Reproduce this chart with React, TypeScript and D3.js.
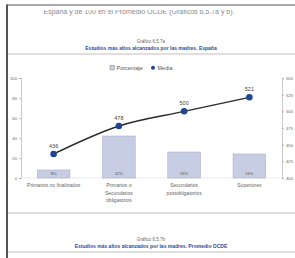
import React, { useEffect, useRef } from "react";
import * as d3 from "d3";

const categories = [
  ["Primarios no finalizados"],
  ["Primarios o", "Secundarios", "obligatorios"],
  ["Secundarios", "postobligatorios"],
  ["Superiores"],
];
const porcentaje = [8, 42, 26, 24];
const media = [436, 478, 500, 521];
const leftTicks = [0, 20, 40, 60, 80, 100];
const rightTicks = [400, 425, 450, 475, 500, 525, 550];

const W = 295;
const H = 258;
const FONT = "'Liberation Sans', Arial, sans-serif";

const App: React.FC = () => {
  const svgRef = useRef<SVGSVGElement>(null);

  useEffect(() => {
    if (!svgRef.current) return;
    const svg = d3.select(svgRef.current);
    svg.selectAll("*").remove();

    svg.append("rect").attr("width", W).attr("height", H).attr("fill", "#fff");

    // clip for the cut-off paragraph at the top
    svg.append("defs").append("clipPath").attr("id", "topclip")
      .append("rect").attr("x", 0).attr("y", 10).attr("width", W).attr("height", 20);

    // top paragraph text (cut off)
    svg.append("text").attr("x", 139).attr("y", 13.8).attr("text-anchor", "middle")
      .attr("clip-path", "url(#topclip)")
      .attr("font-family", FONT).attr("font-size", 7).attr("fill", "#8a8a8a")
      .text("España y de 100 en el Promedio OCDE (Gráficos 6.5.7a y b).");

    // page frame
    svg.append("line").attr("x1", 7).attr("x2", W).attr("y1", 5).attr("y2", 5)
      .attr("stroke", "#555").attr("stroke-width", 1.2);
    svg.append("line").attr("x1", 7).attr("x2", 7).attr("y1", 4.5).attr("y2", H)
      .attr("stroke", "#555").attr("stroke-width", 2);

    const titleBlock = (y: number, sub: string, letter: string) => {
      svg.append("text").attr("x", 151).attr("y", y).attr("text-anchor", "middle")
        .attr("font-family", FONT).attr("font-size", 4.5).attr("fill", "#666")
        .text(`Gráfico 6.5.7${letter}`);
      svg.append("text").attr("x", 151).attr("y", y + 7).attr("text-anchor", "middle")
        .attr("font-family", FONT).attr("font-size", 5).attr("font-weight", "bold")
        .attr("fill", "#2c4a9a").text(sub);
      svg.append("line").attr("x1", 8).attr("x2", W).attr("y1", y + 11).attr("y2", y + 11)
        .attr("stroke", "#d4d4d4").attr("stroke-width", 1.5);
    };
    titleBlock(43, "Estudios más altos alcanzados por las madres. España", "a");
    titleBlock(241, "Estudios más altos alcanzados por las madres. Promedio OCDE", "b");

    // separator above second chart
    svg.append("line").attr("x1", 8).attr("x2", W).attr("y1", 213).attr("y2", 213)
      .attr("stroke", "#d4d4d4").attr("stroke-width", 1.5);

    const x = d3.scaleBand<number>()
      .domain(d3.range(categories.length))
      .range([21, 282])
      .paddingInner(0.5)
      .paddingOuter(0.25);
    const yL = d3.scaleLinear().domain([0, 100]).range([178, 78]);
    const yR = d3.scaleLinear().domain([400, 550]).range([178, 78]);

    // axes
    const axisL = svg.append("g").attr("transform", "translate(21,0)")
      .call(d3.axisLeft(yL).tickValues(leftTicks).tickSize(2).tickPadding(2));
    const axisR = svg.append("g").attr("transform", "translate(282,0)")
      .call(d3.axisRight(yR).tickValues(rightTicks).tickSize(2).tickPadding(2));
    [axisL, axisR].forEach((g) => {
      g.select(".domain").attr("stroke", "#bbb").attr("stroke-width", 0.8);
      g.selectAll(".tick line").attr("stroke", "#999").attr("stroke-width", 0.6);
      g.selectAll(".tick text").attr("font-family", FONT).attr("font-size", 4.2).attr("fill", "#666");
    });
    svg.append("line").attr("x1", 21).attr("x2", 282).attr("y1", 178).attr("y2", 178)
      .attr("stroke", "#ddd").attr("stroke-width", 0.6);

    // bars
    svg.selectAll("rect.bar").data(porcentaje).enter().append("rect")
      .attr("class", "bar")
      .attr("x", (_, i) => x(i)!)
      .attr("width", x.bandwidth())
      .attr("y", (d) => yL(d))
      .attr("height", (d) => yL(0) - yL(d))
      .attr("fill", "#c7cde3")
      .attr("stroke", "#9ea6c8")
      .attr("stroke-width", 0.5);
    svg.selectAll("text.barlbl").data(porcentaje).enter().append("text")
      .attr("class", "barlbl")
      .attr("x", (_, i) => x(i)! + x.bandwidth() / 2)
      .attr("y", 174.5)
      .attr("text-anchor", "middle")
      .attr("font-family", FONT).attr("font-size", 4).attr("fill", "#555")
      .text((d) => `${d}%`);

    // line
    const cx = (i: number) => x(i)! + x.bandwidth() / 2;
    const line = d3.line<number>()
      .x((_, i) => cx(i))
      .y((d) => yR(d))
      .curve(d3.curveMonotoneX);
    svg.append("path").datum(media).attr("d", line)
      .attr("fill", "none").attr("stroke", "#2a2a2a").attr("stroke-width", 1.4);
    svg.selectAll("path.pt").data(media).enter().append("path")
      .attr("class", "pt")
      .attr("transform", (d, i) => `translate(${cx(i)},${yR(d)})`)
      .attr("d", d3.symbol().type(d3.symbolCircle).size(34)() as string)
      .attr("fill", "#1f4791");
    svg.selectAll("text.ptl").data(media).enter().append("text")
      .attr("class", "ptl")
      .attr("x", (_, i) => cx(i))
      .attr("y", (d) => yR(d) - 6)
      .attr("text-anchor", "middle")
      .attr("font-family", FONT).attr("font-size", 5.5).attr("fill", "#444")
      .text((d) => d);

    // category labels
    categories.forEach((lines, i) => {
      lines.forEach((t, j) => {
        svg.append("text").attr("x", cx(i)).attr("y", 187 + j * 7.5)
          .attr("text-anchor", "middle")
          .attr("font-family", FONT).attr("font-size", 5).attr("fill", "#666")
          .text(t);
      });
    });

    // legend
    const lg = svg.append("g").attr("transform", "translate(0,68)");
    lg.append("rect").attr("x", 110).attr("y", -2.5).attr("width", 4.5).attr("height", 4.5)
      .attr("fill", "#c7cde3").attr("stroke", "#888").attr("stroke-width", 0.5);
    lg.append("text").attr("x", 116.5).attr("y", 2).attr("font-family", FONT)
      .attr("font-size", 5.5).attr("fill", "#555").text("Porcentaje");
    lg.append("circle").attr("cx", 153).attr("cy", -0.3).attr("r", 2)
      .attr("fill", "#1f4791");
    lg.append("text").attr("x", 157.5).attr("y", 2).attr("font-family", FONT)
      .attr("font-size", 5.5).attr("fill", "#555").text("Media");
  }, []);

  return (
    <svg
      ref={svgRef}
      width={W}
      height={H}
      style={{ position: "absolute", left: 0, top: 0 }}
    />
  );
};

export default App;
